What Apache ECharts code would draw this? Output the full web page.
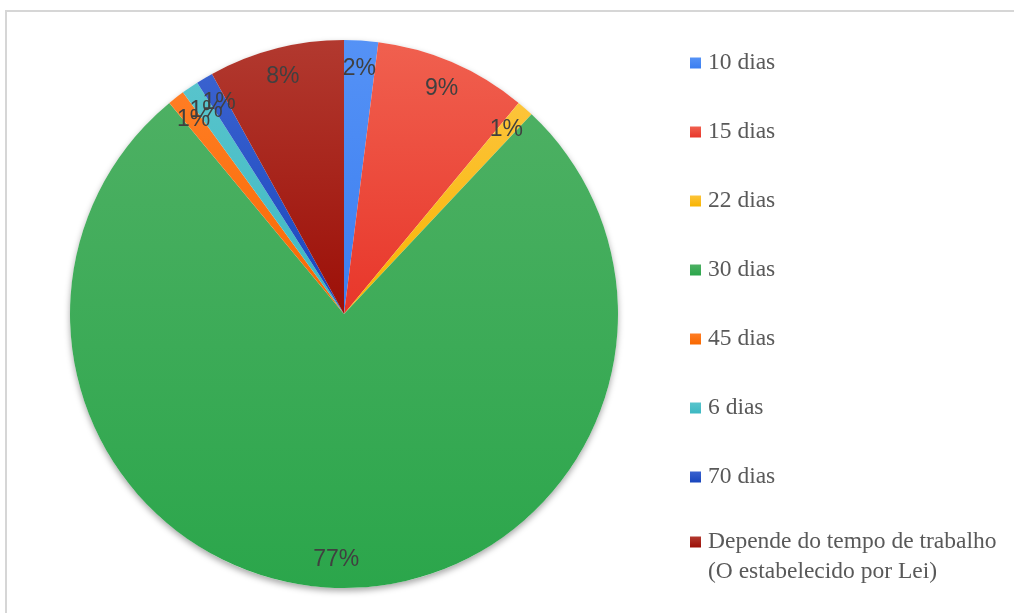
<!DOCTYPE html>
<html>
<head>
<meta charset="utf-8">
<script src="https://cdn.jsdelivr.net/npm/echarts@6/dist/echarts.min.js"></script>
<style>html,body{margin:0;padding:0;background:#fff}#c{width:1014px;height:613px}</style>
</head>
<body>
<div id="c"></div>
<script>
const categories = ['10 dias', '15 dias', '22 dias', '30 dias', '45 dias', '6 dias', '70 dias', 'Depende do tempo de trabalho\n(O estabelecido por Lei)'];
const values = [2, 9, 1, 77, 1, 1, 1, 8];
const topColors = ['#5592f6', '#f0604f', '#fcc43a', '#4db063', '#ff7d24', '#58c4cc', '#3a62cf', '#b2392f'];
const bottomColors = ['#3b7ef0', '#e8362a', '#f8b400', '#2ba64b', '#f86800', '#3cb8c2', '#1845bd', '#9c0f07'];

const chart = echarts.init(document.getElementById('c'), null, {renderer: 'canvas'});
const center = [344, 314];
const R = 274;

const data = categories.map((name, i) => ({
  name: name,
  value: values[i],
  itemStyle: {
    color: new echarts.graphic.LinearGradient(0, 0, 0, 1, [
      {offset: 0, color: topColors[i]},
      {offset: 1, color: bottomColors[i]}
    ])
  }
}));

const lastName = categories[categories.length - 1];
const legendText = {
  fontFamily: 'Liberation Serif',
  fontSize: 23.5,
  color: '#595959',
  lineHeight: 30,
  padding: [0, 0, 0, 2]
};
const legendCommon = {
  orient: 'vertical',
  left: 685,
  itemWidth: 11,
  itemHeight: 11,
  itemGap: 39,
  icon: 'rect',
  textStyle: legendText
};

chart.setOption({
  animation: false,
  backgroundColor: '#ffffff',
  graphic: [{
    type: 'rect',
    silent: true,
    shape: {x: 6, y: 11, width: 1030, height: 630},
    style: {fill: 'none', stroke: '#d6d6d6', lineWidth: 2}
  }],
  legend: [
    Object.assign({}, legendCommon, {
      top: 43,
      height: 600,
      data: categories.slice(0, categories.length - 1)
    }),
    Object.assign({}, legendCommon, {
      top: 492,
      height: 120,
      data: [lastName],
      formatter: name => '\n' + name
    })
  ],
  series: [
    {
      type: 'pie',
      name: 'shadow',
      silent: true,
      center: center,
      radius: [0, R],
      label: {show: false},
      labelLine: {show: false},
      data: [{name: '', value: 1, itemStyle: {color: '#ffffff', shadowBlur: 6, shadowOffsetY: 3, shadowColor: 'rgba(0,0,0,0.35)'}}]
    },
    {
      type: 'pie',
      name: 'main',
      center: center,
      radius: [0, R],
      startAngle: 90,
      clockwise: true,
      avoidLabelOverlap: false,
      label: {show: false},
      labelLine: {show: false},
      emphasis: {disabled: true},
      data: data
    },
    {
      type: 'pie',
      name: 'labels',
      silent: true,
      center: center,
      radius: [211, R],
      startAngle: 90,
      clockwise: true,
      avoidLabelOverlap: false,
      itemStyle: {color: 'rgba(0,0,0,0)', borderWidth: 0},
      emphasis: {disabled: true},
      labelLine: {show: false},
      labelLayout: {hideOverlap: false},
      label: {
        show: true,
        position: 'inside',
        fontFamily: 'Liberation Sans',
        fontSize: 23,
        color: '#404040',
        formatter: p => Math.round(p.percent) + '%'
      },
      data: categories.map((name, i) => ({name: name, value: values[i]}))
    }
  ]
});
</script>
</body>
</html>
